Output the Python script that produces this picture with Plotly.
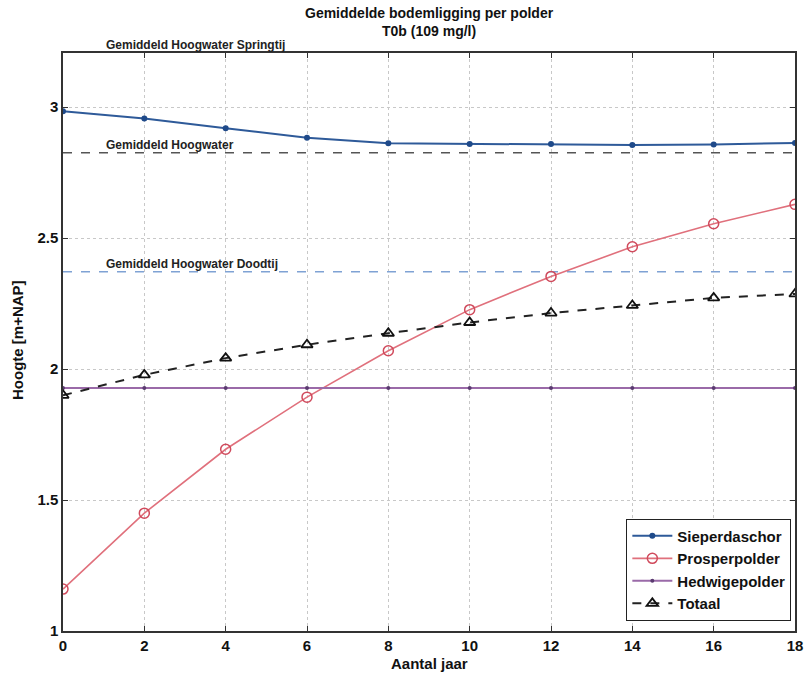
import plotly.graph_objects as go

years = [0, 2, 4, 6, 8, 10, 12, 14, 16, 18]
sieperdaschor = [2.985, 2.957, 2.92, 2.883, 2.862, 2.86, 2.86, 2.856, 2.858, 2.863]
prosperpolder = [1.16, 1.45, 1.694, 1.893, 2.07, 2.227, 2.354, 2.467, 2.555, 2.629]
hedwigepolder = [1.928, 1.928, 1.928, 1.928, 1.928, 1.928, 1.928, 1.928, 1.928, 1.928]
totaal = [1.90, 1.978, 2.042, 2.093, 2.137, 2.178, 2.214, 2.243, 2.272, 2.287]

level_names = ["Gemiddeld Hoogwater Springtij", "Gemiddeld Hoogwater", "Gemiddeld Hoogwater Doodtij"]
level_values = [3.207, 2.826, 2.372]
level_colors = ["#555555", "#555555", "#7fa2d4"]

x_ticks = [0, 2, 4, 6, 8, 10, 12, 14, 16, 18]
y_ticks = [1, 1.5, 2, 2.5, 3]
y_ticktext = ["1", "1.5", "2", "2.5", "3"]

FONT = "Liberation Sans"
L, R, T, B = 63, 9, 53, 48
W, H = 804, 679
PW, PH = W - L - R, H - T - B
Y_MAX = 3.207

fig = go.Figure()

for name, val, col in zip(level_names, level_values, level_colors):
    if val < Y_MAX:
        fig.add_trace(go.Scatter(x=[years[0], years[-1]], y=[val, val], mode="lines",
                                 line=dict(color=col, width=1.6, dash="dash"),
                                 showlegend=False, hoverinfo="skip"))
    fig.add_annotation(x=1, y=min(val, Y_MAX), text=name, showarrow=False, xanchor="left", yanchor="bottom",
                       yshift=-1, font=dict(family=FONT, size=12, color="#222", weight="bold"))

fig.add_trace(go.Scatter(x=years, y=sieperdaschor, name="Sieperdaschor", mode="lines+markers",
                         line=dict(color="#2e5a99", width=2),
                         marker=dict(symbol="circle", size=6, color="#1f4a8a")))
fig.add_trace(go.Scatter(x=years, y=prosperpolder, name="Prosperpolder", mode="lines+markers",
                         line=dict(color="#e0707c", width=1.6),
                         marker=dict(symbol="circle-open", size=10, color="#d04a5c", line=dict(width=1.5))))
fig.add_trace(go.Scatter(x=years, y=hedwigepolder, name="Hedwigepolder", mode="lines+markers",
                         line=dict(color="#9a6aa8", width=2),
                         marker=dict(symbol="circle", size=4, color="#5a3a70")))
fig.add_trace(go.Scatter(x=years, y=totaal, name="Totaal", mode="lines+markers",
                         line=dict(color="#222222", width=2, dash="dash"),
                         marker=dict(symbol="triangle-up-open", size=10, color="#111", line=dict(width=1.8))))

# title and axis titles as annotations for exact placement
fig.add_annotation(xref="paper", yref="paper", x=0.5, y=1 + 12 / PH, xanchor="center", yanchor="bottom",
                   text="Gemiddelde bodemligging per polder<br>T0b (109 mg/l)", showarrow=False,
                   font=dict(family=FONT, size=14, color="#111", weight="bold"))
fig.add_annotation(xref="paper", yref="paper", x=0.5, y=-(663 - (T + PH)) / PH, xanchor="center",
                   yanchor="middle", text="Aantal jaar", showarrow=False,
                   font=dict(family=FONT, size=15, color="#111", weight="bold"))
fig.add_annotation(xref="paper", yref="paper", x=(18 - L) / PW, y=(T + PH - 340) / PH, xanchor="center",
                   yanchor="middle", text="Hoogte [m+NAP]", textangle=-90, showarrow=False,
                   font=dict(family=FONT, size=15, color="#111", weight="bold"))

fig.update_layout(
    width=W, height=H,
    margin=dict(l=L, r=R, t=T, b=B, autoexpand=False),
    paper_bgcolor="white", plot_bgcolor="white",
    font=dict(family=FONT, size=14, color="#111", weight="bold"),
    legend=dict(x=0.995, y=0.018, xanchor="right", yanchor="bottom", bgcolor="white",
                bordercolor="#222", borderwidth=1, font=dict(family=FONT, size=15, weight="bold"),
                tracegroupgap=0, itemwidth=40),
    showlegend=True,
)
fig.update_xaxes(range=[0, 18], tickvals=x_ticks, ticks="inside", ticklen=5, tickcolor="#333",
                 showline=True, linecolor="#333", linewidth=1.5, mirror="ticks",
                 showgrid=True, gridcolor="#c8c8c8", griddash="dot", gridwidth=1, zeroline=False,
                 automargin=False, tickfont=dict(size=15), ticklabeloverflow="allow")
fig.update_yaxes(range=[1, Y_MAX], tickvals=y_ticks, ticktext=y_ticktext,
                 ticks="inside", ticklen=5, tickcolor="#333",
                 showline=True, linecolor="#333", linewidth=1.5, mirror="ticks",
                 showgrid=True, gridcolor="#c8c8c8", griddash="dot", gridwidth=1, zeroline=False,
                 automargin=False, tickfont=dict(size=15), ticklabeloverflow="allow")

fig.write_html("out.html", config={"displayModeBar": False},
               post_script="document.body.style.margin='0';document.body.style.overflow='hidden';")
